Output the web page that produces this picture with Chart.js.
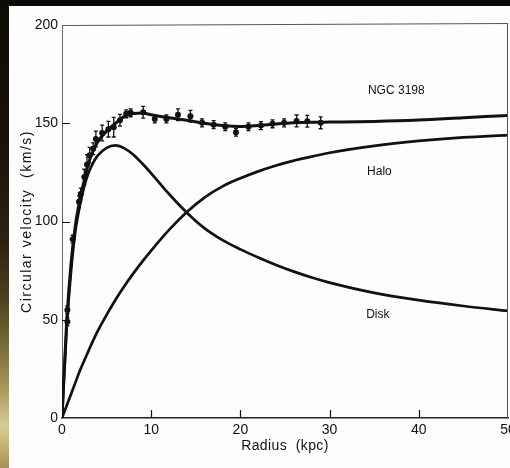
<!DOCTYPE html>
<html>
<head>
<meta charset="utf-8">
<title>NGC 3198 rotation curve</title>
<script src="https://cdn.jsdelivr.net/npm/chart.js@4.4.0/dist/chart.umd.min.js"></script>
<style>
  html, body { margin: 0; padding: 0; }
  body { width: 510px; height: 468px; overflow: hidden; position: relative; background: #0b0a08; }
  #glow {
    position: absolute; left: 0; top: 0; width: 9px; height: 468px;
    background: linear-gradient(to bottom, #0d0b07 0%, #17120a 30%, #2c2410 52%, #4d4220 64%,
      #7a6c36 74%, #a8985a 83%, #d8cd96 91%, #c2ad6e 96%, #a58e55 100%);
  }
  #paper { position: absolute; left: 9px; top: 6px; width: 501px; height: 462px; background: #fdfdfd; }
  #rotation-chart { position: absolute; left: 0; top: 0; }
</style>
</head>
<body>
<div id="glow"></div>
<div id="paper"></div>
<canvas id="rotation-chart" width="540" height="468"></canvas>
<script>
// model curves, radius in kpc and circular velocity in km/s
const curveRadius   = [0, 0.5, 1, 1.5, 2, 2.5, 3, 3.5, 4, 5, 6, 7, 8, 9, 10, 12, 14, 16, 18, 20, 22, 24, 26, 28, 30, 35, 40, 45, 50];
const totalVelocity = [0, 47, 78, 98, 111, 121, 130, 136, 140.5, 146, 150, 153.5, 155, 155.2, 154.3, 152.8, 151.5, 150, 148.8, 148.3, 148.8, 149.6, 150.2, 150.5, 150.6, 150.9, 151.6, 152.8, 154];
const diskVelocity  = [0, 44, 74, 95, 108, 118, 125, 130, 133.5, 137.5, 138.7, 137.2, 134, 129.5, 124.5, 114, 104.5, 96.5, 90.5, 85.8, 81.7, 77.9, 74.5, 71.5, 68.9, 63.7, 60, 57, 54.5];
const haloVelocity  = [0, 6, 12, 18, 24, 29.3, 34.5, 39.5, 44.2, 52.5, 60.2, 67.2, 73.6, 79.6, 85.2, 95.7, 104.8, 112.3, 117.9, 122, 125.5, 128.5, 131, 133, 135, 138.5, 141, 142.8, 144];

// measured points with error bars
const obsRadius   = [0.6, 0.6, 1.2, 1.9, 2.1, 2.5, 2.8, 3.1, 3.5, 3.8, 4.5, 5.2, 5.8, 6.5, 7.2, 7.7, 9.1, 10.4, 11.7, 13.0, 14.4, 15.7, 17.0, 18.3, 19.5, 20.9, 22.3, 23.6, 24.9, 26.3, 27.5, 29.0];
const obsVelocity = [49, 55, 91, 110, 114, 122.6, 129, 133.7, 137, 142, 145, 147, 148, 151.5, 154.8, 155.3, 155.6, 152.2, 152.2, 154.3, 153.6, 150.2, 149.3, 148.2, 145.4, 148.2, 148.8, 149.7, 150.2, 151.2, 151, 150.2];
const obsError    = [2, 2, 2, 3, 3, 4, 5, 4, 3, 4, 4, 4, 5, 3, 2, 2, 3, 2, 2, 3, 3, 2, 2, 2, 2, 2, 2, 2, 2, 3, 3, 3];

const radiusTicks   = [0, 10, 20, 30, 40, 50];
const velocityTicks = [0, 50, 100, 150, 200];

const curveNames = ['NGC 3198', 'Halo', 'Disk'];

const ink = '#111';
const font = 'Liberation Sans, Arial, sans-serif';

const toPoints = (xs, ys) => xs.map((x, i) => ({ x: x, y: ys[i] }));

// frame, inward ticks, error bars, curve names and axis titles
const paperMarks = {
  id: 'paperMarks',
  beforeDatasetsDraw(chart) {
    const { ctx, scales: { x, y } } = chart;
    ctx.save();
    ctx.strokeStyle = ink;
    ctx.lineWidth = 1.3;
    obsRadius.forEach((r, i) => {
      const px = x.getPixelForValue(r);
      const top = y.getPixelForValue(obsVelocity[i] + obsError[i]);
      const bot = y.getPixelForValue(obsVelocity[i] - obsError[i]);
      ctx.beginPath();
      ctx.moveTo(px, top); ctx.lineTo(px, bot);
      ctx.moveTo(px - 2, top); ctx.lineTo(px + 2, top);
      ctx.moveTo(px - 2, bot); ctx.lineTo(px + 2, bot);
      ctx.stroke();
    });
    ctx.restore();
  },
  afterDraw(chart) {
    const { ctx, chartArea: a, scales: { x, y } } = chart;
    ctx.save();

    // top and right edges of the box
    ctx.strokeStyle = '#555';
    ctx.lineWidth = 1;
    ctx.beginPath();
    ctx.moveTo(a.left, a.top + 0.5); ctx.lineTo(a.right, a.top - 1.5);
    ctx.moveTo(a.right - 0.5, a.top - 1.5); ctx.lineTo(a.right - 0.5, a.bottom);
    ctx.stroke();

    // tick marks point into the plot
    ctx.strokeStyle = ink;
    ctx.lineWidth = 1.2;
    ctx.beginPath();
    radiusTicks.slice(1, -1).forEach(v => {
      const px = Math.round(x.getPixelForValue(v)) + 0.5;
      ctx.moveTo(px, a.bottom); ctx.lineTo(px, a.bottom - 8);
    });
    velocityTicks.slice(1, -1).forEach(v => {
      const py = Math.round(y.getPixelForValue(v)) + 0.5;
      ctx.moveTo(a.left, py); ctx.lineTo(a.left + 8, py);
    });
    ctx.stroke();

    // curve names sit to the right of the curves
    const spots = [[34.3, 166.5], [34.2, 125.5], [34.1, 52.5]];
    ctx.fillStyle = ink;
    ctx.font = '12px ' + font;
    ctx.textAlign = 'left';
    ctx.textBaseline = 'middle';
    curveNames.forEach((name, i) => {
      ctx.fillText(name, x.getPixelForValue(spots[i][0]), y.getPixelForValue(spots[i][1]));
    });

    // axis titles, a little letter-spaced like the typeset original
    ctx.font = '14px ' + font;
    ctx.textAlign = 'center';
    ctx.letterSpacing = '0.4px';
    ctx.fillText('Radius  (kpc)', x.getPixelForValue(25), a.bottom + 28);
    ctx.translate(27, (a.top + a.bottom) / 2);
    ctx.rotate(-Math.PI / 2);
    ctx.letterSpacing = '1.5px';
    ctx.fillText('Circular velocity  (km/s)', 0, 0);
    ctx.restore();
  }
};

const rotationChart = () => {
  const options = {
    type: 'line',
    data: {
      datasets: [{
        label: 'NGC 3198',
        data: toPoints(curveRadius, totalVelocity),
        borderColor: ink,
        borderWidth: 3,
        pointRadius: 0,
        cubicInterpolationMode: 'monotone'
      }, {
        label: 'Disk',
        data: toPoints(curveRadius, diskVelocity),
        borderColor: ink,
        borderWidth: 2.7,
        pointRadius: 0,
        cubicInterpolationMode: 'monotone'
      }, {
        label: 'Halo',
        data: toPoints(curveRadius, haloVelocity),
        borderColor: ink,
        borderWidth: 2.7,
        pointRadius: 0,
        cubicInterpolationMode: 'monotone'
      }, {
        label: 'Observed',
        data: toPoints(obsRadius, obsVelocity),
        showLine: false,
        pointRadius: 3,
        pointBackgroundColor: ink,
        pointBorderColor: ink,
        pointBorderWidth: 0
      }]
    },
    options: {
      responsive: false,
      animation: false,
      devicePixelRatio: 1,
      layout: { padding: { left: 0, right: 32, top: 25, bottom: 0 } },
      plugins: { legend: { display: false }, tooltip: { enabled: false } },
      scales: {
        x: {
          type: 'linear',
          min: 0,
          max: 50,
          afterBuildTicks: scale => { scale.ticks = radiusTicks.map(v => ({ value: v })) },
          afterFit: scale => { scale.height = 50 },
          ticks: { color: ink, font: { family: font, size: 14 }, padding: 4, maxRotation: 0 },
          grid: { drawOnChartArea: false, drawTicks: false },
          border: { color: '#222', width: 1.6 }
        },
        y: {
          min: 0,
          max: 200,
          afterBuildTicks: scale => { scale.ticks = velocityTicks.map(v => ({ value: v })) },
          afterFit: scale => { scale.width = 62 },
          ticks: { color: ink, font: { family: font, size: 14 }, padding: 4 },
          grid: { drawOnChartArea: false, drawTicks: false },
          border: { color: '#666', width: 1 }
        }
      }
    },
    plugins: [paperMarks]
  }
  const canvas = document.getElementById('rotation-chart').getContext('2d');
  new Chart(canvas, options)
}

rotationChart();
</script>
</body>
</html>
